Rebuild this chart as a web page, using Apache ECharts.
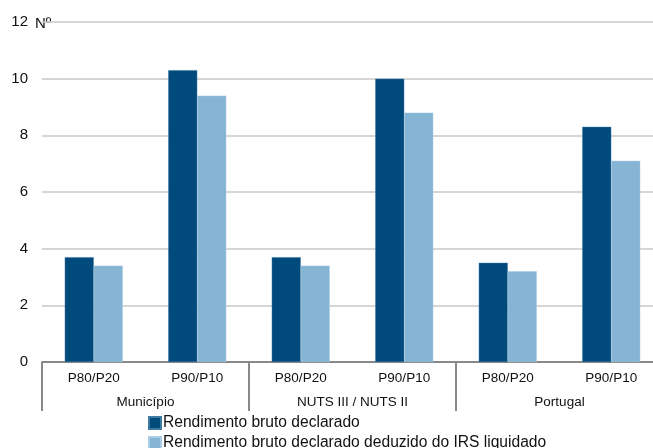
<!DOCTYPE html>
<html><head><meta charset="utf-8">
<script src="https://cdn.jsdelivr.net/npm/echarts@6/dist/echarts.min.js"></script>
<style>html,body{margin:0;padding:0;background:#fff}#c{width:653px;height:448px}</style>
</head><body><div id="c"></div>
<script>
var categories = ['P80/P20','P90/P10','P80/P20','P90/P10','P80/P20','P90/P10'];
var groups = ['Município','NUTS III / NUTS II','Portugal'];
var seriesNames = ['Rendimento bruto declarado','Rendimento bruto declarado deduzido do IRS liquidado'];
var bruto = [3.7, 10.3, 3.7, 10.0, 3.5, 8.3];
var deduzido = [3.4, 9.4, 3.4, 8.8, 3.2, 7.1];
var yTicks = [0, 2, 4, 6, 8, 10, 12];

var chart = echarts.init(document.getElementById('c'));
var font = 'Liberation Sans, Arial, sans-serif';
chart.setOption({
  animation: false,
  textStyle: {fontFamily: font},
  grid: {left: 42, width: 621, top: 22, bottom: 86, outerBoundsMode: 'none', containLabel: false},
  legend: {
    orient: 'vertical', left: 143, top: 410, height: 80, itemGap: 4,
    itemWidth: 12, itemHeight: 12, icon: 'rect',
    textStyle: {fontSize: 15.6, color: '#111', fontFamily: font, padding: [0,0,0,-3]},
    data: seriesNames
  },
  graphic: [{type: 'text', left: 35, top: 16, style: {text: 'Nº', fontSize: 15, fill: '#111', fontFamily: font}}],
  xAxis: [{
    type: 'category', data: categories,
    axisLine: {lineStyle: {color: '#898989', width: 2}},
    axisTick: {show: false},
    axisLabel: {fontSize: 13.5, color: '#111', margin: 9, interval: 0}
  }, {
    type: 'category', data: groups, position: 'bottom',
    axisLine: {show: false},
    axisTick: {show: true, length: 49, interval: 0, lineStyle: {color: '#898989', width: 2}},
    axisLabel: {fontSize: 13.5, color: '#111', margin: 33, interval: 0},
    splitLine: {show: false}
  }],
  yAxis: {
    type: 'value', min: 0, max: 12, interval: 2,
    axisLine: {show: false}, axisTick: {show: false},
    axisLabel: {fontSize: 15, color: '#111', margin: 14,
      formatter: function(v){ return yTicks.indexOf(v) >= 0 ? String(v) : ''; }},
    splitLine: {lineStyle: {color: '#c8c8c8', width: 1.5}}
  },
  series: [{
    name: seriesNames[0], type: 'bar', data: bruto, barWidth: 29, barGap: '0%',
    itemStyle: {color: '#004a7c', borderColor: '#3f7aa3', borderWidth: 0.5}
  }, {
    name: seriesNames[1], type: 'bar', data: deduzido, barWidth: 29, barGap: '0%',
    itemStyle: {color: '#85b4d4', borderColor: '#a9cbe3', borderWidth: 0.5}
  }]
});
</script></body></html>
